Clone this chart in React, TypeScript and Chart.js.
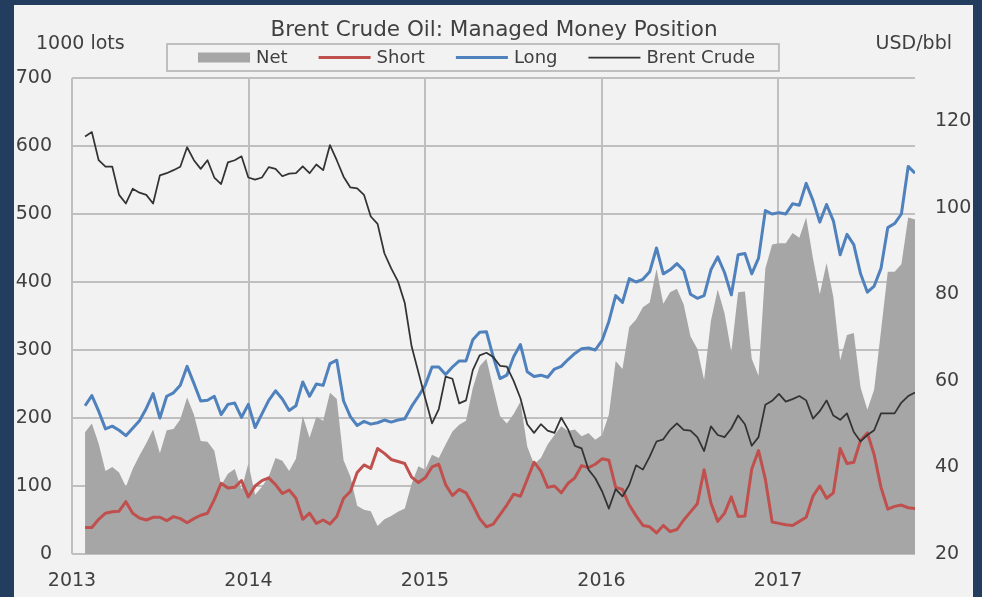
import React, { useEffect, useRef } from "react";
import { Chart, registerables } from "chart.js";

Chart.register(...registerables);

// ---- data ----
// x positions: decimal years, first report late Jan 2013, sampled every two weeks
const X_START = 2013.074;
const X_STEP = 0.03854;

const TITLE = "Brent Crude Oil: Managed Money Position";
const LEFT_UNIT = "1000 lots";
const RIGHT_UNIT = "USD/bbl";
const SERIES_LABELS = ["Net", "Short", "Long", "Brent Crude"];

// Net position, 1000 lots
const NET = [
  179, 192, 162, 122, 128, 120, 99, 125, 145, 163,
  183, 148, 182, 184, 198, 230, 205, 166, 165, 152,
  101, 118, 125, 95, 133, 87, 99, 114, 141, 137,
  122, 140, 203, 171, 202, 196, 237, 228, 138, 114,
  71, 65, 63, 41, 51, 56, 62, 67, 103, 129,
  124, 146, 141, 161, 180, 190, 196, 244, 276, 287,
  244, 203, 192, 206, 224, 158, 132, 141, 161, 175,
  188, 181, 183, 173, 178, 168, 175, 205, 284, 272,
  334, 345, 363, 370, 419, 368, 385, 390, 367, 320,
  302, 256, 343, 389, 354, 297, 385, 386, 287, 262,
  420, 455, 457, 457, 472, 465, 495, 435, 382, 428,
  378, 285, 322, 325, 245, 212, 242, 328, 415, 415,
  426, 495, 492,
];

// Short positions, 1000 lots
const SHORT = [
  39, 39, 51, 60, 62, 63, 77, 60, 53, 50,
  54, 54, 49, 55, 52, 46, 52, 57, 60, 80,
  104, 97, 98, 108, 84, 100, 108, 112, 102, 89,
  94, 82, 51, 60, 45, 50, 44, 55, 82, 92,
  120, 131, 126, 155, 148, 139, 136, 133, 113, 105,
  112, 128, 132, 102, 86, 95, 90, 72, 52, 40,
  44, 58, 72, 88, 85, 110, 135, 122, 98, 100,
  90, 104, 112, 130, 127, 132, 140, 138, 98, 95,
  72, 56, 42, 40, 31, 42, 33, 36, 50, 62,
  74, 124, 75, 48, 60, 84, 55, 56, 125, 152,
  110, 47, 45, 43, 42, 48, 54, 85, 100, 82,
  90, 155, 133, 135, 167, 178, 146, 98, 66, 70,
  72, 68, 67,
];

// Long positions, 1000 lots
const LONG = [
  218, 233, 210, 184, 188, 182, 174, 185, 196, 214,
  236, 200, 232, 237, 248, 276, 251, 225, 226, 232,
  205, 220, 222, 201, 220, 186, 206, 226, 240, 228,
  211, 218, 253, 232, 250, 248, 280, 285, 225, 202,
  189, 195, 191, 193, 197, 194, 197, 199, 217, 232,
  248, 275, 275, 264, 275, 284, 284, 315, 326, 327,
  290, 258, 263, 290, 308, 268, 261, 263, 260, 272,
  276, 286, 295, 302, 303, 300, 314, 342, 380, 370,
  405, 400, 404, 415, 450, 412, 418, 427, 417, 382,
  376, 380, 418, 437, 414, 381, 440, 442, 412, 435,
  505, 500, 502, 500, 515, 513, 545, 520, 488, 514,
  490, 440, 470, 455, 412, 385, 394, 420, 480, 486,
  500, 570, 560,
];

// Brent crude price, USD/bbl
const BRENT = [
  116.5, 117.5, 111, 109.5, 109.5, 103, 101, 104.4, 103.5, 103,
  101, 107.5, 108, 108.7, 109.5, 114, 111, 109, 111, 107,
  105.5, 110.5, 111, 111.9, 107, 106.5, 107, 109.4, 109, 107.3,
  107.9, 108, 109.6, 108, 110, 108.7, 114.5, 111, 107.2, 104.7,
  104.5, 103, 98, 96.3, 89.5, 86, 83, 78, 68, 62,
  56, 50.2, 53.5, 61, 60.5, 54.8, 55.5, 62.5, 65.9, 66.5,
  65.5, 63.5, 63.3, 60, 56, 50, 48, 50, 48.5, 48,
  51.5, 48.8, 45, 44.4, 39.5, 37.5, 34.5, 30.5, 35, 33.3,
  36, 40.5, 39.5, 42.5, 46, 46.5, 48.7, 50.2, 48.7, 48.5,
  47, 43.8, 49.5, 47.5, 47, 49, 52, 50, 45, 47,
  54.5, 55.4, 57, 55.2, 55.8, 56.5, 55.5, 51.3, 53, 55.5,
  52, 51, 52.5, 48.2, 46, 47.5, 48.6, 52.5, 52.5, 52.5,
  55, 56.5, 57.3,
];

const LEFT_RANGE = { min: 0, max: 700, step: 100 };
const RIGHT_RANGE = { min: 20, max: 130, step: 20 };
const X_FIRST_YEAR = 2013;

// ---- styles ----
const FONT = "'DejaVu Sans', Verdana, sans-serif";
const TEXT = "#404040";
const GRID = "#bfbfbf";
const NAVY = "#233d5e";
const PANEL = "#f2f2f2";
const C_NET = "#a6a6a6";
const C_SHORT = "#c0504d";
const C_LONG = "#4f81bd";
const C_BRENT = "#333333";

const W = 982;
const H = 597;
const FRAME_L = 14;
const FRAME_T = 5;
const FRAME_R = 9;
const CW = W - FRAME_L - FRAME_R;
const CH = H - FRAME_T;

const toPoints = (arr: number[]) => arr.map((v, i) => ({ x: X_START + i * X_STEP, y: v }));

const overlayPlugin = {
  id: "overlay",
  afterDraw(chart: any) {
    const ctx: CanvasRenderingContext2D = chart.ctx;
    ctx.save();
    ctx.fillStyle = TEXT;
    ctx.textBaseline = "middle";
    // title
    ctx.font = `21.5px ${FONT}`;
    ctx.textAlign = "center";
    ctx.fillText(TITLE, 480, 25);
    // unit labels
    ctx.font = `19px ${FONT}`;
    ctx.textAlign = "left";
    ctx.fillText(LEFT_UNIT, 22, 39);
    ctx.textAlign = "right";
    ctx.fillText(RIGHT_UNIT, 938, 39);
    // legend
    ctx.font = `18px ${FONT}`;
    ctx.textAlign = "left";
    const boxL = 153, boxT = 39, boxH = 27;
    const cy = boxT + boxH / 2;
    let x = 184;
    const swW = 52;
    const gap = 31;
    const ds = chart.data.datasets;
    [0, 1, 2, 3].forEach((idx) => {
      const d = ds[idx];
      if (d.fill) {
        ctx.fillStyle = d.backgroundColor;
        ctx.fillRect(x, cy - 5, swW, 10);
      } else {
        ctx.strokeStyle = d.borderColor;
        ctx.lineWidth = d.borderWidth;
        ctx.beginPath();
        ctx.moveTo(x, cy);
        ctx.lineTo(x + swW, cy);
        ctx.stroke();
      }
      const tx = x + swW + 6;
      ctx.fillStyle = TEXT;
      ctx.fillText(d.label, tx, cy + 1);
      x = tx + ctx.measureText(d.label).width + gap;
    });
    const boxR = x - gap + 24;
    ctx.strokeStyle = GRID;
    ctx.lineWidth = 2;
    ctx.strokeRect(boxL, boxT, boxR - boxL, boxH);
    ctx.restore();
  },
};

export default function App() {
  const ref = useRef<HTMLCanvasElement | null>(null);

  useEffect(() => {
    if (!ref.current) return;
    const xMax = X_START + (NET.length - 1) * X_STEP;
    const chart = new Chart(ref.current, {
      type: "line",
      data: {
        datasets: [
          {
            label: SERIES_LABELS[0],
            data: toPoints(NET),
            yAxisID: "y",
            fill: "origin",
            backgroundColor: C_NET,
            borderColor: C_NET,
            borderWidth: 0,
            pointRadius: 0,
            tension: 0,
            order: 4,
          },
          {
            label: SERIES_LABELS[1],
            data: toPoints(SHORT),
            yAxisID: "y",
            fill: false,
            borderColor: C_SHORT,
            backgroundColor: C_SHORT,
            borderWidth: 3,
            borderJoinStyle: "round",
            pointRadius: 0,
            tension: 0,
            order: 3,
          },
          {
            label: SERIES_LABELS[2],
            data: toPoints(LONG),
            yAxisID: "y",
            fill: false,
            borderColor: C_LONG,
            backgroundColor: C_LONG,
            borderWidth: 3,
            borderJoinStyle: "round",
            pointRadius: 0,
            tension: 0,
            order: 2,
          },
          {
            label: SERIES_LABELS[3],
            data: toPoints(BRENT),
            yAxisID: "y1",
            fill: false,
            borderColor: C_BRENT,
            backgroundColor: C_BRENT,
            borderWidth: 1.75,
            borderJoinStyle: "round",
            pointRadius: 0,
            tension: 0,
            order: 1,
          },
        ],
      } as any,
      options: {
        responsive: false,
        animation: false,
        devicePixelRatio: 1,
        layout: { padding: { left: 0, right: 0, top: 73, bottom: 0 } },
        plugins: {
          legend: { display: false },
          title: { display: false },
          tooltip: { enabled: false },
        },
        scales: {
          x: {
            type: "linear",
            min: X_FIRST_YEAR,
            max: xMax,
            border: { display: false },
            grid: { color: GRID, lineWidth: 2, drawTicks: false },
            ticks: {
              stepSize: 1,
              includeBounds: false,
              maxRotation: 0,
              padding: 16,
              color: TEXT,
              font: { family: FONT, size: 19 },
              callback: (v: any) => String(v),
            },
            afterFit: (s: any) => {
              s.height = 43;
            },
          },
          y: {
            position: "left",
            min: LEFT_RANGE.min,
            max: LEFT_RANGE.max,
            border: { display: false },
            grid: { color: GRID, lineWidth: 2, drawTicks: false },
            ticks: {
              stepSize: LEFT_RANGE.step,
              padding: 20,
              color: TEXT,
              font: { family: FONT, size: 19 },
            },
            afterFit: (s: any) => {
              s.width = 58;
            },
          },
          y1: {
            position: "right",
            min: RIGHT_RANGE.min,
            max: RIGHT_RANGE.max,
            border: { display: false },
            grid: { drawOnChartArea: false, drawTicks: false },
            ticks: {
              stepSize: RIGHT_RANGE.step,
              includeBounds: false,
              padding: 20,
              color: TEXT,
              font: { family: FONT, size: 19 },
            },
            afterFit: (s: any) => {
              s.width = 58;
            },
          },
        },
      } as any,
      plugins: [overlayPlugin],
    });
    return () => chart.destroy();
  }, []);

  return (
    <div
      style={{
        position: "fixed",
        left: 0,
        top: 0,
        width: W,
        height: H,
        background: NAVY,
        overflow: "hidden",
      }}
    >
      <div
        style={{
          position: "absolute",
          left: FRAME_L,
          top: FRAME_T,
          width: CW,
          height: CH,
          background: PANEL,
        }}
      >
        <canvas ref={ref} width={CW} height={CH} style={{ display: "block", width: CW, height: CH }} />
      </div>
    </div>
  );
}
